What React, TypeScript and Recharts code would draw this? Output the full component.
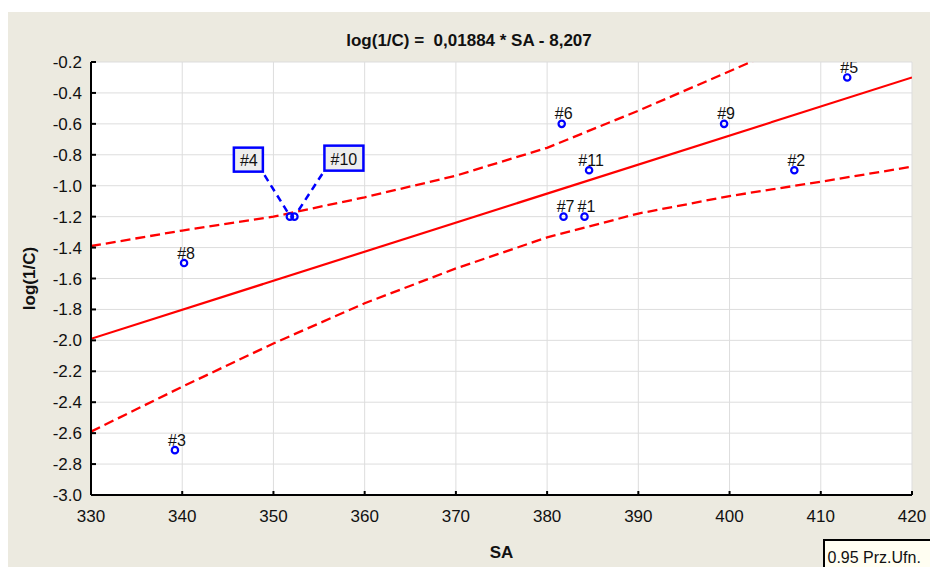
import React from 'react';
import { ComposedChart, Line, Scatter, XAxis, YAxis, CartesianGrid } from 'recharts';

const FONT = '"Liberation Sans", Arial, Helvetica, sans-serif';

// observations
const pointNames = ['#1', '#2', '#3', '#4', '#5', '#6', '#7', '#8', '#9', '#10', '#11'];
const pointSA = [384.1, 407.1, 339.2, 351.8, 412.9, 381.6, 381.8, 340.2, 399.4, 352.3, 384.6];
const pointLogC = [-1.2, -0.9, -2.71, -1.2, -0.3, -0.6, -1.2, -1.5, -0.6, -1.2, -0.9];

// regression line
const fitSA = [330, 420];
const fitLogC = [-1.99, -0.3];

// 0.95 confidence band
const bandSA = [330, 340, 350, 360, 370, 380, 390, 400, 410, 420];
const upperLogC = [-1.39, -1.29, -1.2, -1.075, -0.935, -0.755, -0.515, -0.26, 0.0, 0.28];
const lowerLogC = [-2.59, -2.3, -2.02, -1.76, -1.535, -1.334, -1.18, -1.067, -0.974, -0.877];

const xTicks = [330, 340, 350, 360, 370, 380, 390, 400, 410, 420];
const yTicks = [-3.0, -2.8, -2.6, -2.4, -2.2, -2.0, -1.8, -1.6, -1.4, -1.2, -1.0, -0.8, -0.6, -0.4, -0.2];

// labelled with a callout box: -1 = box to the left, 1 = box to the right
const calloutNames = ['#4', '#10'];
const calloutSides = [-1, 1];

const title = 'log(1/C) =  0,01884 * SA - 8,207';
const xTitle = 'SA';
const yTitle = 'log(1/C)';
const legendText = '0.95 Prz.Ufn.';

const points = pointNames.map((name, i) => ({ name, x: pointSA[i], y: pointLogC[i] }));
const fitData = fitSA.map((x, i) => ({ x, y: fitLogC[i] }));
const upperData = bandSA.map((x, i) => ({ x, y: upperLogC[i] }));
const lowerData = bandSA.map((x, i) => ({ x, y: lowerLogC[i] }));

const BLUE = '#0000ff';
const RED = '#ff0000';

function PointMark(props: any) {
  const { cx, cy, payload } = props;
  if (cx == null || cy == null) return null;
  const idx = calloutNames.indexOf(payload.name);
  const side = idx >= 0 ? calloutSides[idx] : 0;
  const textStyle = { fontSize: 16, fontFamily: FONT, fill: '#111' };
  return (
    <g>
      <circle cx={cx} cy={cy} r={3.2} fill="none" stroke={BLUE} strokeWidth={2.2} />
      {side === 0 && (
        <text x={cx + 2} y={cy - 4.5} textAnchor="middle" style={textStyle}>
          {payload.name}
        </text>
      )}
      {side === -1 && (
        <g>
          <line x1={cx - 2.6} y1={cy - 5} x2={cx - 27.5} y2={cy - 45} stroke={BLUE} strokeWidth={2.5} strokeDasharray="7 5" />
          <rect x={cx - 56} y={cy - 69} width={29} height={24} fill="#eeeeee" stroke={BLUE} strokeWidth={2.5} />
          <text x={cx - 41} y={cy - 51} textAnchor="middle" style={textStyle}>
            {payload.name}
          </text>
        </g>
      )}
      {side === 1 && (
        <g>
          <line x1={cx + 4.3} y1={cy - 6.7} x2={cx + 29} y2={cy - 44.5} stroke={BLUE} strokeWidth={2.5} strokeDasharray="7 5" />
          <rect x={cx + 30} y={cy - 71} width={39} height={25} fill="#eeeeee" stroke={BLUE} strokeWidth={2.5} />
          <text x={cx + 49.5} y={cy - 52} textAnchor="middle" style={textStyle}>
            {payload.name}
          </text>
        </g>
      )}
    </g>
  );
}

const axisLine = { stroke: '#000', strokeWidth: 2 };
const tickLine = { stroke: '#000', strokeWidth: 2 };
const tickStyle = { fontSize: 17, fill: '#111', fontFamily: FONT };
const blank = () => '';

export default function App() {
  const W = 922;
  const H = 555;
  return (
    <div style={{ position: 'fixed', left: 8, top: 12, width: W, height: H, background: '#ECEAE0', overflow: 'hidden' }}>
      <ComposedChart width={W} height={H} margin={{ top: 50, right: 18, bottom: 0, left: 0 }}>
        <CartesianGrid stroke="#dddddd" strokeWidth={1} fill="#ffffff" />
        <XAxis
          dataKey="x"
          type="number"
          domain={[330, 420]}
          ticks={xTicks}
          interval={0}
          allowDataOverflow
          height={72}
          axisLine={axisLine}
          tickLine={tickLine}
          tickSize={-4}
          tickMargin={19}
          tick={tickStyle}
        />
        <XAxis
          xAxisId="top"
          orientation="top"
          type="number"
          domain={[330, 420]}
          ticks={xTicks}
          interval={0}
          allowDataOverflow
          height={0}
          axisLine={axisLine}
          tickLine={tickLine}
          tickSize={-4}
          tickFormatter={blank}
        />
        <YAxis
          type="number"
          domain={[-3, -0.2]}
          ticks={yTicks}
          interval={0}
          allowDataOverflow
          width={83}
          axisLine={axisLine}
          tickLine={tickLine}
          tickSize={-5}
          tickMargin={14}
          tick={tickStyle}
          tickFormatter={(v: number) => v.toFixed(1)}
        />
        <YAxis
          yAxisId="right"
          orientation="right"
          type="number"
          domain={[-3, -0.2]}
          ticks={yTicks}
          interval={0}
          allowDataOverflow
          width={0}
          axisLine={axisLine}
          tickLine={tickLine}
          tickSize={-5}
          tickFormatter={blank}
        />
        <Line data={upperData} dataKey="y" type="linear" stroke={RED} strokeWidth={2.3} strokeDasharray="10 5" dot={false} activeDot={false} isAnimationActive={false} />
        <Line data={lowerData} dataKey="y" type="linear" stroke={RED} strokeWidth={2.3} strokeDasharray="10 5" dot={false} activeDot={false} isAnimationActive={false} />
        <Line data={fitData} dataKey="y" type="linear" stroke={RED} strokeWidth={2.2} dot={false} activeDot={false} isAnimationActive={false} />
        <Scatter data={points} dataKey="y" shape={PointMark} isAnimationActive={false} />
        <text x={W / 2} y={34} textAnchor="middle" style={{ fontSize: 17, fontWeight: 'bold', fontFamily: FONT, fill: '#111', whiteSpace: 'pre' }}>
          {title}
        </text>
        <text x={493.5} y={545.5} textAnchor="middle" style={{ fontSize: 17, fontWeight: 'bold', fontFamily: FONT, fill: '#111' }}>
          {xTitle}
        </text>
        <text x={21} y={266.5} textAnchor="middle" dominantBaseline="central" transform="rotate(-90 21 266.5)" style={{ fontSize: 17, fontWeight: 'bold', fontFamily: FONT, fill: '#111' }}>
          {yTitle}
        </text>
      </ComposedChart>
      <div
        style={{
          position: 'absolute',
          left: 814.5,
          top: 527,
          width: 130,
          height: 40,
          border: '2px solid #000',
          background: '#FFFEF2',
          boxSizing: 'border-box',
          fontFamily: FONT,
          fontSize: 16,
          color: '#111',
          paddingLeft: 3,
          paddingTop: 8,
          lineHeight: '18px',
          whiteSpace: 'nowrap',
        }}
      >
        {legendText}
      </div>
    </div>
  );
}
